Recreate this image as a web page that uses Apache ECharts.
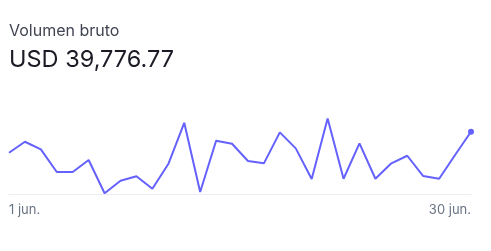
<!DOCTYPE html>
<html>
<head>
<meta charset="utf-8">
<script src="https://cdn.jsdelivr.net/npm/echarts@6/dist/echarts.min.js"></script>
<style>
html,body{margin:0;padding:0;background:#fff;}
#c{width:491px;height:251px;}
</style>
</head>
<body>
<div id="c"></div>
<script>
const titleText = "Volumen bruto";
const totalText = "USD 39,776.77";
const days = ["1 jun.","2 jun.","3 jun.","4 jun.","5 jun.","6 jun.","7 jun.","8 jun.","9 jun.","10 jun.",
  "11 jun.","12 jun.","13 jun.","14 jun.","15 jun.","16 jun.","17 jun.","18 jun.","19 jun.","20 jun.",
  "21 jun.","22 jun.","23 jun.","24 jun.","25 jun.","26 jun.","27 jun.","28 jun.","29 jun.","30 jun."];
const volumes = [1631, 2066, 1766, 869, 869, 1343, 28, 525, 699, 209,
  1185, 2816, 79, 2105, 1987, 1304, 1213, 2437, 1805, 593,
  2990, 604, 2003, 604, 1213, 1513, 711, 604, 1541, 2461];

const lineColor = '#6461fc';
const seriesData = volumes.map((v, i) => i === volumes.length - 1
  ? { value: v, symbol: 'circle', symbolSize: 6 }
  : { value: v });

const chart = echarts.init(document.getElementById('c'), null, { renderer: 'canvas' });
chart.setOption({
  animation: false,
  backgroundColor: '#ffffff',
  title: [
    { text: titleText, left: 9, top: 23, padding: 0,
      textStyle: { fontFamily: 'Inter', fontSize: 16, fontWeight: 'normal', color: '#414552', lineHeight: 16 } },
    { text: totalText, left: 9, top: 48, padding: 0,
      textStyle: { fontFamily: 'Inter', fontSize: 23.5, fontWeight: 'normal', color: '#1a1b25', lineHeight: 24 } }
  ],
  grid: { left: 9, right: 20, top: 103, bottom: 57, containLabel: false },
  xAxis: {
    type: 'category',
    data: days,
    boundaryGap: false,
    axisLine: { show: true, lineStyle: { color: '#ebeef1', width: 1 } },
    axisTick: { show: false },
    axisLabel: {
      interval: (i) => i === 0 || i === days.length - 1,
      alignMinLabel: 'left',
      alignMaxLabel: 'right',
      margin: 10,
      fontFamily: 'Inter',
      fontSize: 13,
      color: '#687385'
    },
    splitLine: { show: false }
  },
  yAxis: {
    type: 'value',
    min: 0,
    max: 3600,
    show: false
  },
  series: [{
    type: 'line',
    data: seriesData,
    symbol: 'none',
    showSymbol: true,
    lineStyle: { color: lineColor, width: 2 },
    itemStyle: { color: lineColor },
    silent: true
  }]
});
</script>
</body>
</html>
